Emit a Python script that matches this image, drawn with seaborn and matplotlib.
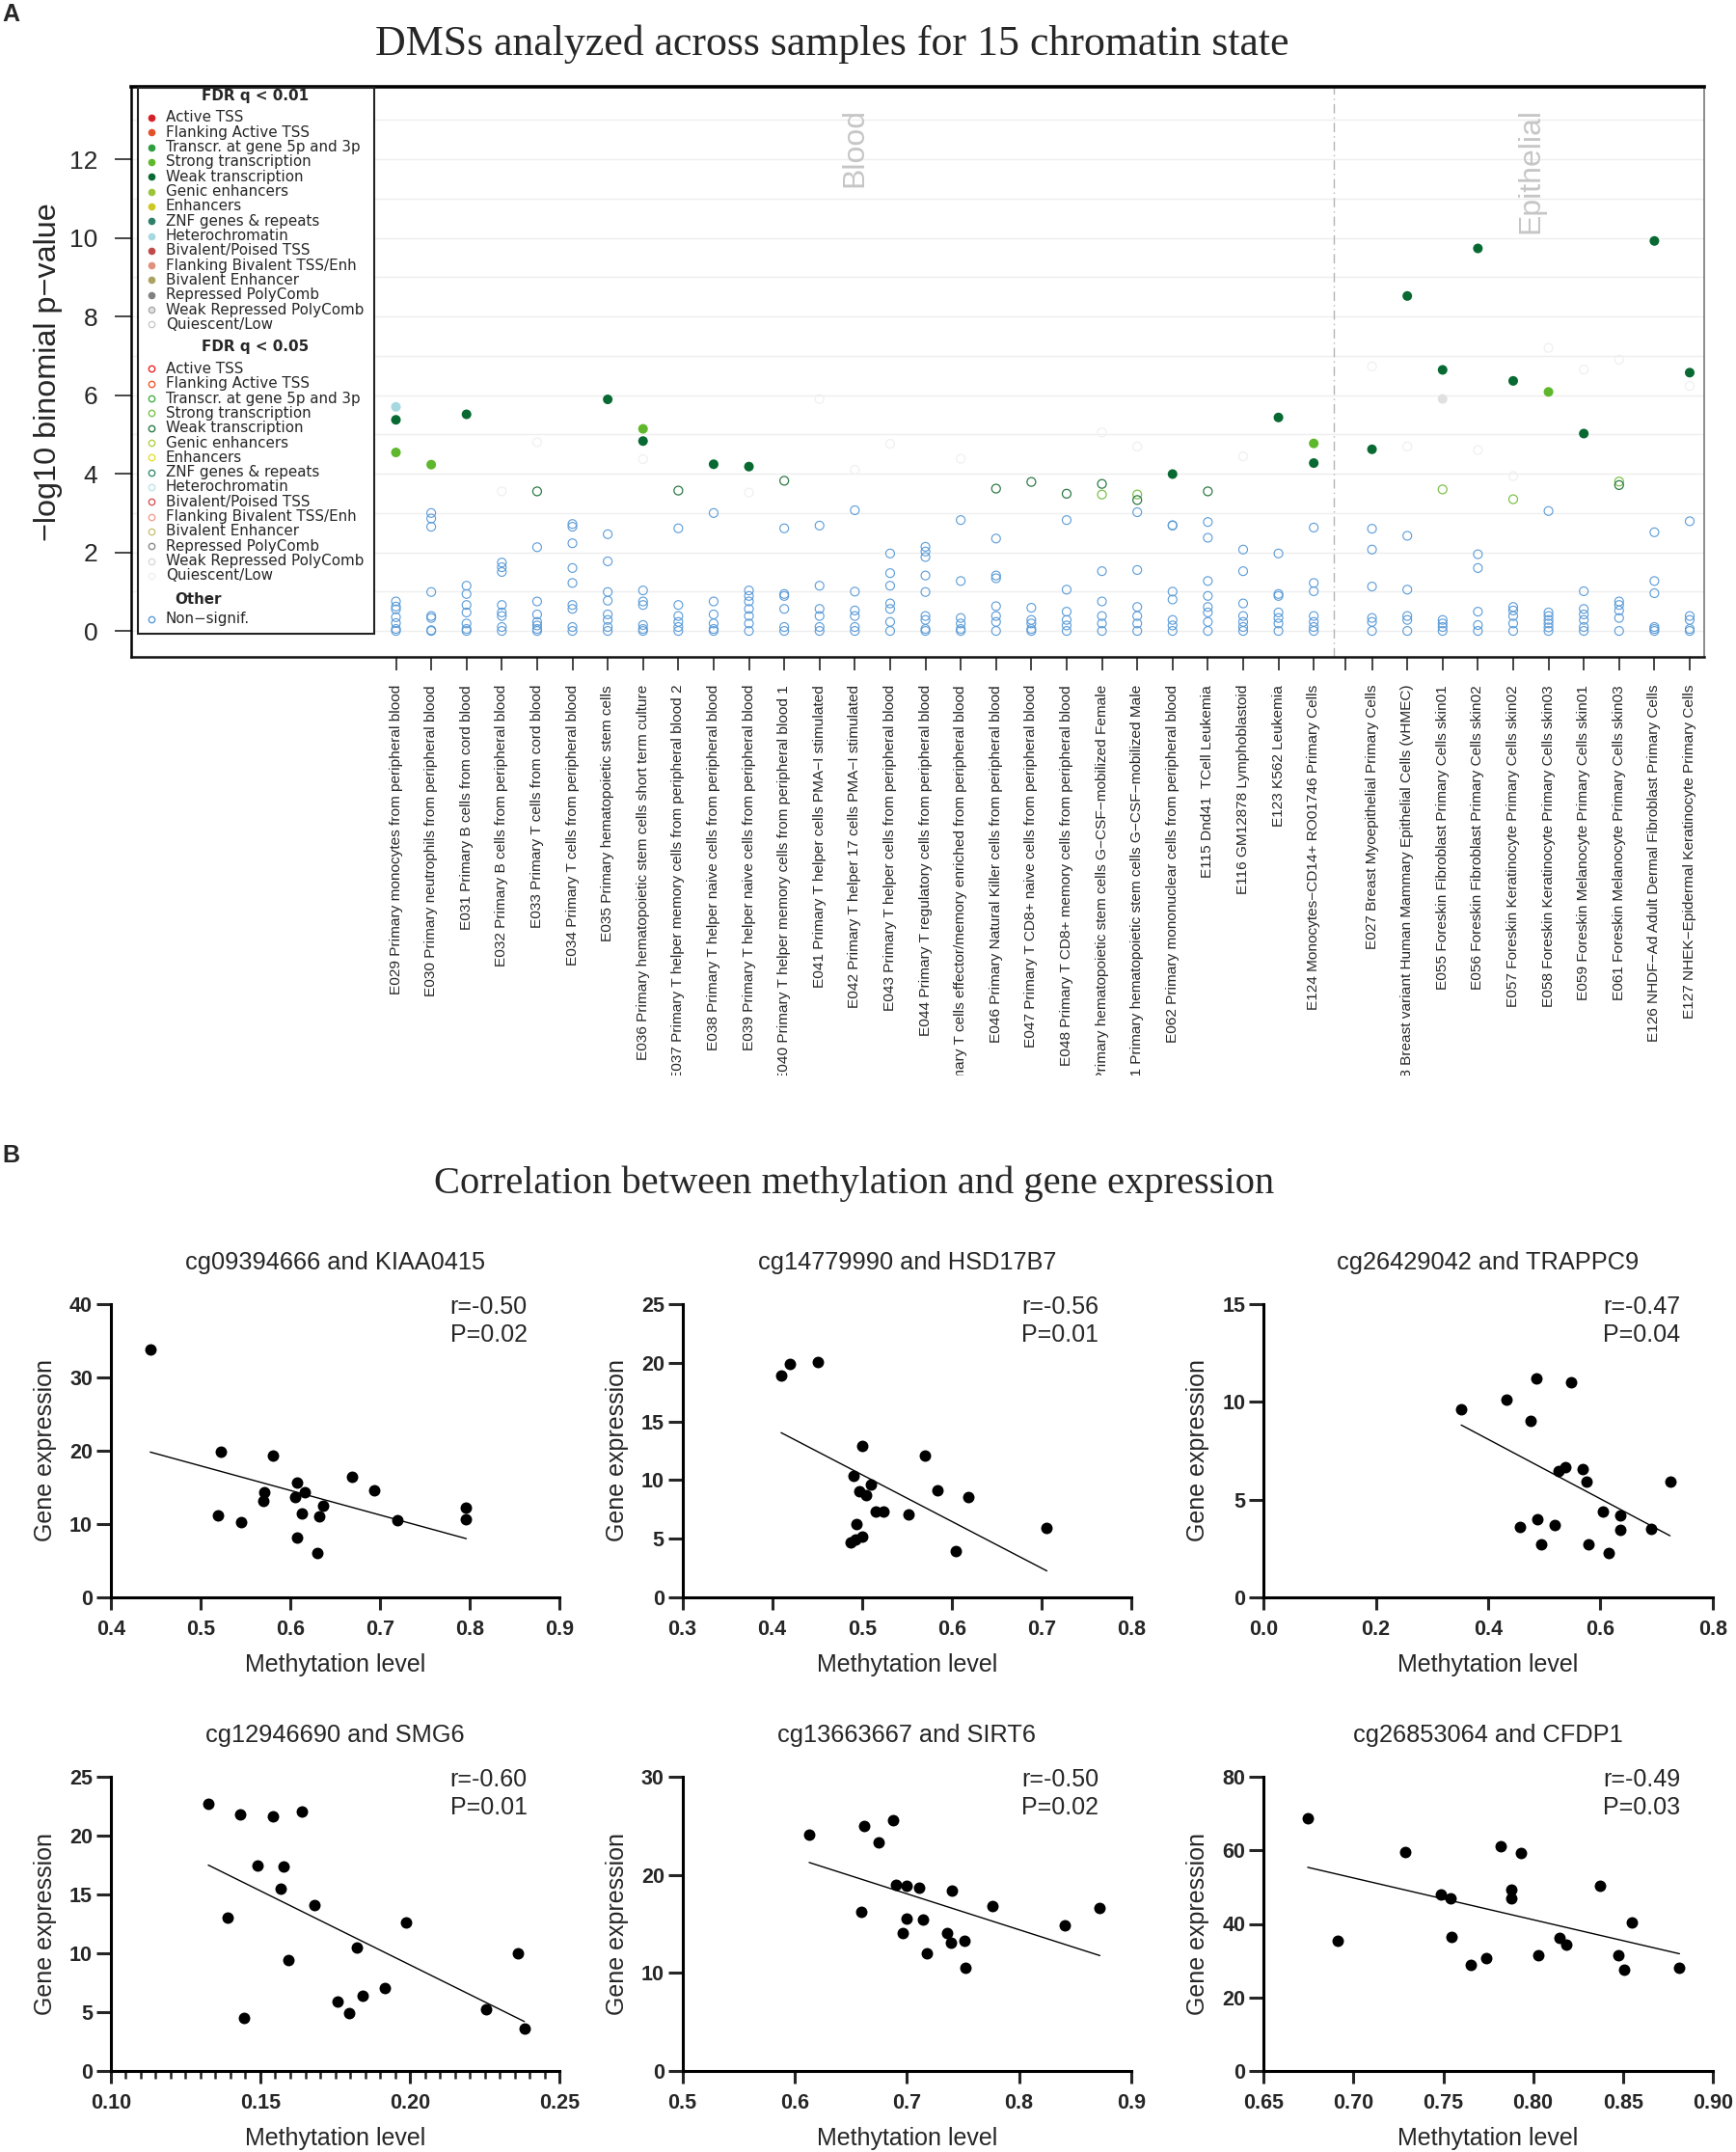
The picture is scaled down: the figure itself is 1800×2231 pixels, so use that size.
import numpy as np
import pandas as pd
import matplotlib
matplotlib.use("Agg")
import matplotlib.pyplot as plt
import seaborn as sns
from matplotlib.patches import Rectangle
from matplotlib.transforms import Bbox, TransformedBbox
from matplotlib.ticker import MultipleLocator, FormatStrFormatter

# ---------------- panel A data ----------------
blood_samples = [
    "E029 Primary monocytes from peripheral blood",
    "E030 Primary neutrophils from peripheral blood",
    "E031 Primary B cells from cord blood",
    "E032 Primary B cells from peripheral blood",
    "E033 Primary T cells from cord blood",
    "E034 Primary T cells from peripheral blood",
    "E035 Primary hematopoietic stem cells",
    "E036 Primary hematopoietic stem cells short term culture",
    "E037 Primary T helper memory cells from peripheral blood 2",
    "E038 Primary T helper naive cells from peripheral blood",
    "E039 Primary T helper naive cells from peripheral blood",
    "E040 Primary T helper memory cells from peripheral blood 1",
    "E041 Primary T helper cells PMA\u2212I stimulated",
    "E042 Primary T helper 17 cells PMA\u2212I stimulated",
    "E043 Primary T helper cells from peripheral blood",
    "E044 Primary T regulatory cells from peripheral blood",
    "E045 Primary T cells effector/memory enriched from peripheral blood",
    "E046 Primary Natural Killer cells from peripheral blood",
    "E047 Primary T CD8+ naive cells from peripheral blood",
    "E048 Primary T CD8+ memory cells from peripheral blood",
    "E050 Primary hematopoietic stem cells G\u2212CSF\u2212mobilized Female",
    "E051 Primary hematopoietic stem cells G\u2212CSF\u2212mobilized Male",
    "E062 Primary mononuclear cells from peripheral blood",
    "E115 Dnd41  TCell Leukemia",
    "E116 GM12878 Lymphoblastoid",
    "E123 K562 Leukemia",
    "E124 Monocytes\u2212CD14+ RO01746 Primary Cells",
]
epi_samples = [
    "E027 Breast Myoepithelial Primary Cells",
    "E028 Breast variant Human Mammary Epithelial Cells (vHMEC)",
    "E055 Foreskin Fibroblast Primary Cells skin01",
    "E056 Foreskin Fibroblast Primary Cells skin02",
    "E057 Foreskin Keratinocyte Primary Cells skin02",
    "E058 Foreskin Keratinocyte Primary Cells skin03",
    "E059 Foreskin Melanocyte Primary Cells skin01",
    "E061 Foreskin Melanocyte Primary Cells skin03",
    "E126 NHDF\u2212Ad Adult Dermal Fibroblast Primary Cells",
    "E127 NHEK\u2212Epidermal Keratinocyte Primary Cells",
]

# non-significant -log10 p per sample (same order as blood + epithelial)
nonsig_values = [
    [0.75, 0.62, 0.55, 0.35, 0.2, 0.05, 0.0],
    [3.0, 2.86, 2.65, 0.99, 0.38, 0.33, 0.02, 0.0],
    [1.15, 0.94, 0.66, 0.47, 0.19, 0.05, 0.0],
    [1.74, 1.62, 1.5, 0.66, 0.47, 0.38, 0.1, 0.0],
    [2.13, 0.75, 0.42, 0.23, 0.14, 0.05, 0.0],
    [2.72, 2.65, 2.23, 1.6, 1.22, 0.66, 0.56, 0.1, 0.0],
    [2.46, 1.77, 0.99, 0.77, 0.42, 0.28, 0.1, 0.0],
    [1.03, 0.75, 0.66, 0.15, 0.05, 0.0],
    [2.61, 0.66, 0.38, 0.23, 0.1, 0.0],
    [3.0, 0.75, 0.42, 0.19, 0.05, 0.0],
    [1.03, 0.89, 0.75, 0.56, 0.38, 0.19, 0.0],
    [2.61, 0.94, 0.89, 0.56, 0.1, 0.0],
    [2.68, 1.15, 0.56, 0.38, 0.1, 0.0],
    [3.07, 1.0, 0.52, 0.38, 0.1, 0.0],
    [1.97, 1.47, 1.15, 0.7, 0.56, 0.23, 0.0],
    [2.14, 2.02, 1.88, 1.41, 0.99, 0.38, 0.28, 0.05, 0.0],
    [2.82, 1.27, 0.33, 0.19, 0.05, 0.0],
    [2.35, 1.41, 1.34, 0.63, 0.38, 0.23, 0.0],
    [0.59, 0.28, 0.19, 0.05, 0.0],
    [2.82, 1.05, 0.49, 0.28, 0.14, 0.0],
    [1.52, 0.75, 0.38, 0.19, 0.0],
    [3.02, 1.55, 0.61, 0.38, 0.19, 0.0],
    [2.69, 2.68, 1.0, 0.8, 0.28, 0.14, 0.0],
    [2.77, 2.37, 1.27, 0.89, 0.61, 0.47, 0.23, 0.0],
    [2.07, 1.52, 0.7, 0.38, 0.23, 0.1, 0.0],
    [1.97, 0.94, 0.89, 0.47, 0.33, 0.19, 0.0],
    [2.63, 1.22, 1.01, 0.38, 0.23, 0.1, 0.0],
    [2.6, 2.07, 1.13, 0.33, 0.23, 0.0],
    [2.42, 1.05, 0.38, 0.28, 0.0],
    [0.28, 0.19, 0.1, 0.0],
    [1.95, 1.6, 0.49, 0.15, 0.0],
    [0.61, 0.52, 0.38, 0.19, 0.0],
    [3.05, 0.47, 0.38, 0.28, 0.19, 0.09, 0.0],
    [1.01, 0.56, 0.42, 0.28, 0.1, 0.0],
    [0.75, 0.66, 0.52, 0.33, 0.0],
    [2.51, 1.27, 0.96, 0.1, 0.05, 0.0],
    [2.79, 0.38, 0.28, 0.05, 0.0],
]

# significant enrichments
sig_sample = ["E029", "E029", "E029", "E030", "E031", "E032", "E033", "E033",
              "E035", "E036", "E036", "E036", "E037", "E038", "E039", "E039",
              "E040", "E041", "E042", "E043", "E045", "E046", "E047", "E048",
              "E050", "E050", "E050", "E051", "E051", "E051", "E062", "E115",
              "E116", "E123", "E124", "E124",
              "E027", "E027", "E028", "E028", "E055", "E055", "E055", "E056",
              "E056", "E057", "E057", "E057", "E058", "E058", "E059", "E059",
              "E061", "E061", "E061", "E126", "E127", "E127"]
sig_value = [5.70, 5.37, 4.54, 4.23, 5.51, 3.55, 4.80, 3.55,
             5.89, 5.14, 4.83, 4.37, 3.57, 4.24, 4.18, 3.52,
             3.82, 5.90, 4.10, 4.76, 4.38, 3.62, 3.79, 3.49,
             5.05, 3.74, 3.47, 4.69, 3.47, 3.33, 3.99, 3.55,
             4.44, 5.43, 4.77, 4.27,
             6.73, 4.62, 8.52, 4.69, 6.64, 5.90, 3.60, 9.73,
             4.60, 6.36, 3.94, 3.35, 7.20, 6.08, 6.65, 5.02,
             6.90, 3.80, 3.71, 9.92, 6.57, 6.23]
sig_state = ["Heterochromatin", "Weak transcription", "Strong transcription",
             "Strong transcription", "Weak transcription", "Quiescent/Low",
             "Quiescent/Low", "Weak transcription", "Weak transcription",
             "Strong transcription", "Weak transcription", "Quiescent/Low",
             "Weak transcription", "Weak transcription", "Weak transcription",
             "Quiescent/Low", "Weak transcription", "Quiescent/Low",
             "Quiescent/Low", "Quiescent/Low", "Quiescent/Low",
             "Weak transcription", "Weak transcription", "Weak transcription",
             "Quiescent/Low", "Weak transcription", "Strong transcription",
             "Quiescent/Low", "Strong transcription", "Weak transcription",
             "Weak transcription", "Weak transcription", "Quiescent/Low",
             "Weak transcription", "Strong transcription", "Weak transcription",
             "Quiescent/Low", "Weak transcription", "Weak transcription",
             "Quiescent/Low", "Weak transcription", "Weak Repressed PolyComb",
             "Strong transcription", "Weak transcription", "Quiescent/Low",
             "Weak transcription", "Quiescent/Low", "Strong transcription",
             "Quiescent/Low", "Strong transcription", "Quiescent/Low",
             "Weak transcription", "Quiescent/Low", "Strong transcription",
             "Weak transcription", "Weak transcription", "Weak transcription",
             "Quiescent/Low"]
sig_fdr = [0.01, 0.01, 0.01, 0.01, 0.01, 0.05, 0.05, 0.05,
           0.01, 0.01, 0.01, 0.05, 0.05, 0.01, 0.01, 0.05,
           0.05, 0.05, 0.05, 0.05, 0.05, 0.05, 0.05, 0.05,
           0.05, 0.05, 0.05, 0.05, 0.05, 0.05, 0.01, 0.05,
           0.05, 0.01, 0.01, 0.01,
           0.05, 0.01, 0.01, 0.05, 0.01, 0.01, 0.05, 0.01,
           0.05, 0.01, 0.05, 0.05, 0.05, 0.01, 0.05, 0.01,
           0.05, 0.05, 0.05, 0.01, 0.01, 0.05]

state_names = ["Active TSS", "Flanking Active TSS", "Transcr. at gene 5p and 3p",
               "Strong transcription", "Weak transcription", "Genic enhancers",
               "Enhancers", "ZNF genes & repeats", "Heterochromatin",
               "Bivalent/Poised TSS", "Flanking Bivalent TSS/Enh",
               "Bivalent Enhancer", "Repressed PolyComb",
               "Weak Repressed PolyComb", "Quiescent/Low"]
fill_01 = ["#d62027", "#e4522b", "#2f9e3f", "#5fb82c", "#086a32", "#9cc43a",
           "#cfc823", "#2f7f6a", "#a6d8e0", "#c04a4a", "#e0907c", "#a9a262",
           "#808080", "#e0e0e0", "#ffffff"]
edge_01 = ["#d62027", "#e4522b", "#2f9e3f", "#5fb82c", "#086a32", "#9cc43a",
           "#cfc823", "#2f7f6a", "#a6d8e0", "#c04a4a", "#e0907c", "#a9a262",
           "#808080", "#a4a4a4", "#c4c4c4"]
edge_05 = ["#e8262a", "#f15a30", "#45b048", "#7cc24c", "#2e7a45", "#b2cf46",
           "#e4e030", "#3a8c72", "#bfe3e8", "#d45757", "#f0a190", "#c9c27a",
           "#8c8c8c", "#dadada", "#f0f0f0"]
nonsig_color = "#5a9bd8"

# ---------------- panel B data ----------------
pair_titles = ["cg09394666 and KIAA0415", "cg14779990 and HSD17B7",
               "cg26429042 and TRAPPC9", "cg12946690 and SMG6",
               "cg13663667 and SIRT6", "cg26853064 and CFDP1"]
r_labels = ["r=-0.50", "r=-0.56", "r=-0.47", "r=-0.60", "r=-0.50", "r=-0.49"]
p_labels = ["P=0.02", "P=0.01", "P=0.04", "P=0.01", "P=0.02", "P=0.03"]

meth_kiaa = [0.444, 0.523, 0.581, 0.519, 0.545, 0.571, 0.570, 0.607, 0.605, 0.616,
             0.613, 0.608, 0.637, 0.632, 0.630, 0.669, 0.693, 0.719, 0.796, 0.796]
expr_kiaa = [33.8, 19.9, 19.4, 11.2, 10.2, 14.3, 13.1, 15.6, 13.7, 14.3,
             11.4, 8.2, 12.5, 11.1, 6.0, 16.4, 14.6, 10.5, 12.3, 10.7]
meth_hsd = [0.410, 0.420, 0.451, 0.500, 0.491, 0.510, 0.497, 0.505, 0.494, 0.487,
            0.493, 0.500, 0.515, 0.524, 0.552, 0.570, 0.584, 0.619, 0.604, 0.706]
expr_hsd = [18.9, 19.9, 20.1, 12.9, 10.35, 9.64, 9.06, 8.73, 6.24, 4.68,
            4.93, 5.2, 7.28, 7.34, 7.04, 12.05, 9.12, 8.57, 3.97, 5.94]
meth_trappc = [0.352, 0.432, 0.486, 0.548, 0.476, 0.525, 0.538, 0.569, 0.576, 0.724,
               0.604, 0.635, 0.635, 0.691, 0.456, 0.488, 0.519, 0.494, 0.578, 0.614]
expr_trappc = [9.6, 10.1, 11.18, 10.99, 9.03, 6.48, 6.64, 6.58, 5.92, 5.92,
               4.39, 4.19, 3.44, 3.49, 3.62, 4.01, 3.68, 2.71, 2.71, 2.25]
meth_smg = [0.1326, 0.1431, 0.1541, 0.1638, 0.1492, 0.1578, 0.1569, 0.1681, 0.1389, 0.1986,
            0.1822, 0.1594, 0.2361, 0.1915, 0.1842, 0.1757, 0.1795, 0.1444, 0.2255, 0.2382]
expr_smg = [22.73, 21.85, 21.69, 22.04, 17.5, 17.36, 15.47, 14.13, 13.06, 12.6,
            10.46, 9.42, 9.97, 7.01, 6.41, 5.89, 4.87, 4.49, 5.2, 3.56]
meth_sirt = [0.613, 0.662, 0.688, 0.675, 0.690, 0.700, 0.711, 0.740, 0.659, 0.776,
             0.872, 0.700, 0.714, 0.696, 0.736, 0.739, 0.751, 0.841, 0.718, 0.752]
expr_sirt = [24.1, 24.98, 25.64, 23.34, 19.02, 18.89, 18.69, 18.36, 16.23, 16.79,
             16.62, 15.57, 15.44, 14.1, 14.07, 13.11, 13.28, 14.82, 12.03, 10.56]
meth_cfdp = [0.6745, 0.6914, 0.7287, 0.7820, 0.7931, 0.7486, 0.7542, 0.7878, 0.7876, 0.8372,
             0.7546, 0.7651, 0.7741, 0.8030, 0.8149, 0.8184, 0.8549, 0.8475, 0.8508, 0.8815]
expr_cfdp = [68.7, 35.5, 59.5, 61.1, 59.3, 48.0, 47.0, 49.3, 47.0, 50.5,
             36.4, 28.7, 30.6, 31.4, 36.3, 34.4, 40.5, 31.4, 27.4, 28.1]

meth_sets = [meth_kiaa, meth_hsd, meth_trappc, meth_smg, meth_sirt, meth_cfdp]
expr_sets = [expr_kiaa, expr_hsd, expr_trappc, expr_smg, expr_sirt, expr_cfdp]
x_limits = [(0.4, 0.9), (0.3, 0.8), (0.0, 0.8), (0.10, 0.25), (0.5, 0.9), (0.65, 0.90)]
x_steps = [0.1, 0.1, 0.2, 0.05, 0.1, 0.05]
x_formats = ["%.1f", "%.1f", "%.1f", "%.2f", "%.1f", "%.2f"]
y_limits = [40, 25, 15, 25, 30, 80]
y_steps = [10, 5, 5, 5, 10, 20]

# ---------------- style ----------------
sns.set_style("ticks")
plt.rcParams["font.family"] = ["Liberation Sans", "DejaVu Sans"]
plt.rcParams["axes.unicode_minus"] = True

W, H = 1800, 2231
fig = plt.figure(figsize=(W / 100, H / 100), dpi=100)


def fx(px):
    return px / W


def fy(py):
    return 1 - py / H


# ---------------- panel A ----------------
all_samples = blood_samples + epi_samples
positions = list(range(len(blood_samples))) + [27.65 + j for j in range(len(epi_samples))]
code_pos = {name.split()[0]: pos for name, pos in zip(all_samples, positions)}

ns_rows = []
for pos, vals in zip(positions, nonsig_values):
    for v in vals:
        ns_rows.append((pos, v))
df_ns = pd.DataFrame(ns_rows, columns=["x", "y"])

df_sig = pd.DataFrame({"sample": sig_sample, "y": sig_value,
                       "state": sig_state, "fdr": sig_fdr})
df_sig["x"] = df_sig["sample"].map(code_pos)

axA = fig.add_axes([fx(136), fy(681), fx(1767) - fx(136), fy(89.6) - fy(681)])
axA.set_xlim(-7.5, 37.06)
axA.set_ylim(-0.66, 13.85)

sns.scatterplot(data=df_ns, x="x", y="y", ax=axA, facecolor="none",
                edgecolor=nonsig_color, linewidth=0.8, s=42, zorder=3, legend=False)

for (state, fdr), grp in df_sig.groupby(["state", "fdr"]):
    k = state_names.index(state)
    if fdr == 0.01:
        sns.scatterplot(data=grp, x="x", y="y", ax=axA, color=fill_01[k],
                        edgecolor="none", linewidth=0, s=52, zorder=4, legend=False)
    else:
        sns.scatterplot(data=grp, x="x", y="y", ax=axA, facecolor="none",
                        edgecolor=edge_05[k], linewidth=0.9, s=42, zorder=4, legend=False)

axA.axvline(26.57, color="#b4b4b4", lw=1, ls=(0, (7, 3, 1, 3)), zorder=2)
axA.text(13, 13.29, "Blood", rotation=90, ha="center", va="top",
         fontsize=23, color="#c6c6c6")
axA.text(27.65 + 4.5, 13.29, "Epithelial", rotation=90, ha="center", va="top",
         fontsize=23, color="#c6c6c6")

axA.set_yticks(range(0, 13, 2))
axA.yaxis.set_minor_locator(MultipleLocator(1))
axA.grid(axis="y", which="both", color="#eeeeee", lw=1)
axA.set_axisbelow(True)

ticks = positions[:27] + [26.9] + positions[27:]
labels = all_samples[:27] + [""] + all_samples[27:]
axA.set_xticks(ticks)
axA.set_xticklabels(labels, rotation=90, fontsize=11.1)
axA.tick_params(axis="x", length=10.3, width=1.2, pad=10.5, direction="out")
axA.tick_params(axis="y", which="major", length=12.5, width=1.2, pad=12.4,
                labelsize=19, direction="out")
axA.tick_params(axis="y", which="minor", length=0)
axA.set_xlabel("")
axA.set_ylabel("\u2212log10 binomial p\u2212value", fontsize=23.3)
axA.yaxis.set_label_coords(-0.0435, 0.5)

for side, lw, col in [("top", 2.6, "#000000"), ("left", 1.8, "#000000"),
                      ("bottom", 1.8, "#111111"), ("right", 1.2, "#777777")]:
    axA.spines[side].set_visible(True)
    axA.spines[side].set_linewidth(lw)
    axA.spines[side].set_color(col)

# legend box, drawn in axes fraction
axA.add_patch(Rectangle((0.0043, 0.040), 0.1502, 0.9568, transform=axA.transAxes,
                        facecolor="white", edgecolor="#222222", lw=1.5, zorder=5))
leg_font = dict(family=["DejaVu Sans"], fontsize=10.9, zorder=6,
                transform=axA.transAxes, va="center")
row_step = 15.31 / 591
mx, tx = 0.01288, 0.02195
axA.text(0.0791, 0.9831, "FDR q < 0.01", ha="center", weight="bold", **leg_font)
for k, name in enumerate(state_names):
    yy = 0.9453 - k * row_step
    axA.plot(mx, yy, marker="o", ms=4.6, mfc=fill_01[k], mec=edge_01[k], mew=0.9,
             ls="none", transform=axA.transAxes, zorder=6, clip_on=False)
    axA.text(tx, yy, name, ha="left", **leg_font)
axA.text(0.0791, 0.5435, "FDR q < 0.05", ha="center", weight="bold", **leg_font)
for k, name in enumerate(state_names):
    yy = 0.5049 - k * row_step
    axA.plot(mx, yy, marker="o", ms=4.6, mfc="none", mec=edge_05[k], mew=1.0,
             ls="none", transform=axA.transAxes, zorder=6, clip_on=False)
    axA.text(tx, yy, name, ha="left", **leg_font)
axA.text(0.0276, 0.1008, "Other", ha="left", weight="bold", **leg_font)
axA.plot(mx, 0.0660, marker="o", ms=4.6, mfc="none", mec=nonsig_color, mew=1.0,
         ls="none", transform=axA.transAxes, zorder=6, clip_on=False)
axA.text(tx, 0.0660, "Non\u2212signif.", ha="left", **leg_font)

# ---------------- panel B ----------------
col_left = [114.8, 707.5, 1310.3]
col_width = 465.5
row_top = [1352, 1842.3]
row_bottom = [1656, 2146.7]
b_axes = []

for i in range(6):
    r, c = divmod(i, 3)
    ax = fig.add_axes([fx(col_left[c]), fy(row_bottom[r]), col_width / W,
                       (row_bottom[r] - row_top[r]) / H])
    sns.regplot(x=np.array(meth_sets[i]), y=np.array(expr_sets[i]), ax=ax, ci=None,
                truncate=True,
                scatter_kws=dict(s=74, color="black", linewidths=0, alpha=1, zorder=3),
                line_kws=dict(color="black", lw=1.0))
    x0, x1 = x_limits[i]
    ax.set_xlim(x0, x1)
    ax.set_ylim(0, y_limits[i])
    ax.set_xticks(np.arange(x0, x1 + 1e-9, x_steps[i]))
    ax.xaxis.set_major_formatter(FormatStrFormatter(x_formats[i]))
    ax.set_yticks(np.arange(0, y_limits[i] + 1e-9, y_steps[i]))
    if i == 3:
        ax.xaxis.set_minor_locator(MultipleLocator(0.005))
        ax.tick_params(axis="x", which="minor", length=5.5, width=1.8)
    sns.despine(ax=ax)
    for side in ["left", "bottom"]:
        ax.spines[side].set_linewidth(2.2)
        ax.spines[side].set_color("black")
    ax.tick_params(axis="x", which="major", length=9.5, width=2.2, pad=7, labelsize=15.5)
    ax.tick_params(axis="y", which="major", length=10.5, width=2.2, pad=3, labelsize=15.5)
    ax.set_title(pair_titles[i], fontsize=18.3, pad=26)
    ax.set_xlabel("Methytation level", fontsize=18)
    ax.xaxis.set_label_coords(0.5, -0.19)
    ax.set_ylabel("Gene expression", fontsize=18)
    ax.yaxis.set_label_coords(-0.12, 0.5)
    ax.text(0.756, 0.99, r_labels[i], transform=ax.transAxes, fontsize=18,
            ha="left", va="center")
    ax.text(0.756, 0.895, p_labels[i], transform=ax.transAxes, fontsize=18,
            ha="left", va="center")
    b_axes.append(ax)

# ---------------- figure texts ----------------
fig.text(fx(2), fy(3), "A", fontsize=18, weight="bold", ha="left", va="top")
fig.text(fx(2), fy(1186), "B", fontsize=18, weight="bold", ha="left", va="top")
fig.text(fx(863), fy(46), "DMSs analyzed across samples for 15 chromatin state",
         family=["Liberation Serif"], fontsize=31.6, ha="center", va="center")
fig.text(fx(885.5), fy(1227), "Correlation between methylation and gene expression",
         family=["Liberation Serif"], fontsize=29.2, ha="center", va="center")

# tick labels get their final objects at the first draw; style them afterwards
fig.canvas.draw()
clip = TransformedBbox(Bbox([[0, fy(1115)], [1, 1]]), fig.transFigure)
for t in axA.xaxis.get_major_ticks():
    t.label1.set_clip_box(clip)
    t.label1.set_clip_on(True)
for ax in b_axes:
    for lbl in ax.get_xticklabels() + ax.get_yticklabels():
        lbl.set_fontweight("bold")

fig.savefig("out.png", dpi=100)
plt.close(fig)
